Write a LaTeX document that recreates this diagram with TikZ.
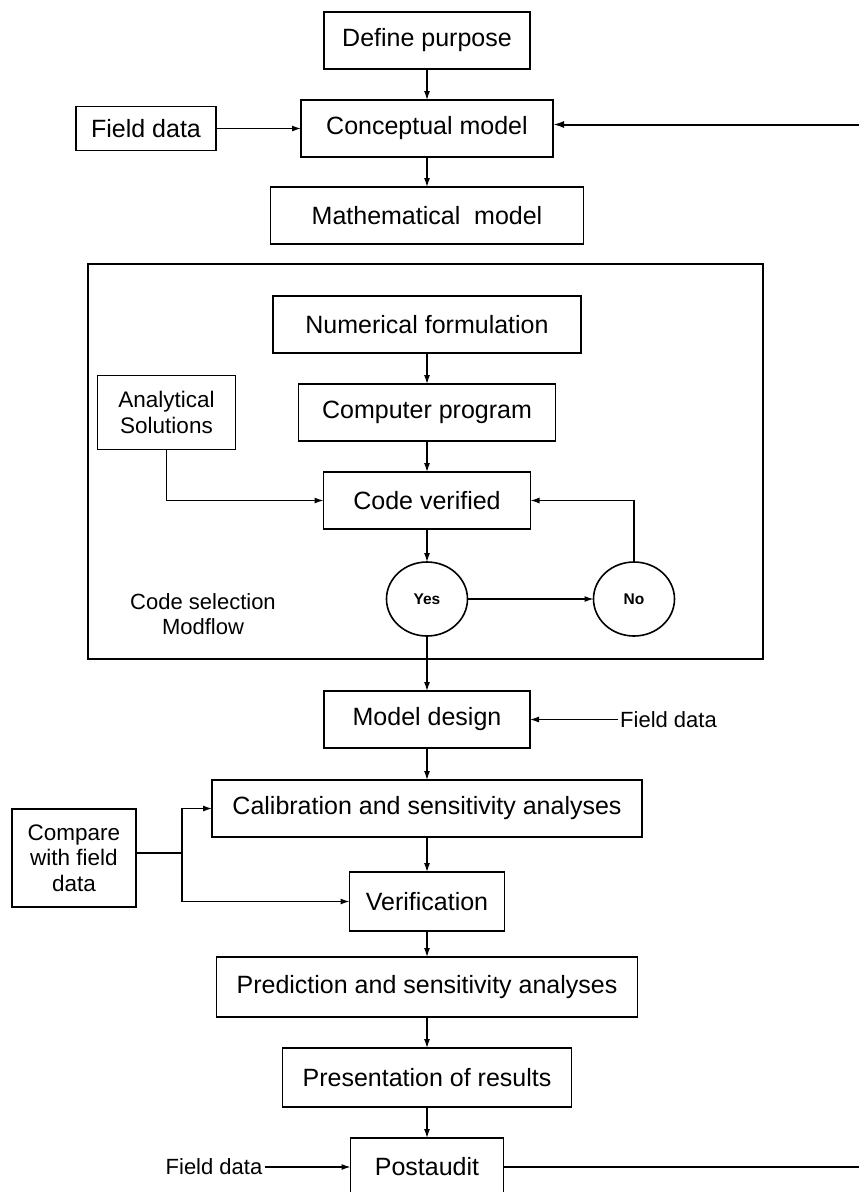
\documentclass[tikz,border=0pt]{standalone}
\usepackage{fontspec}
\setmainfont{Liberation Sans}
\usetikzlibrary{arrows.meta,positioning,fit,shapes.geometric}

\begin{document}
\begin{tikzpicture}[x=1pt,y=1pt,
  stage/.style={draw=black,line width=1.6pt,inner sep=0pt,outer sep=0pt,minimum height=57pt,
    font=\fontsize{25}{29}\selectfont,align=center},
  side/.style={draw=black,line width=1.6pt,inner sep=0pt,outer sep=0pt,align=center,
    font=\fontsize{22.5}{25.5}\selectfont},
  lbl/.style={font=\fontsize{22}{25}\selectfont,inner sep=2pt,align=center},
  dec/.style={ellipse,draw=black,line width=1.6pt,minimum width=81pt,minimum height=74pt,
    inner sep=0pt,outer sep=0pt,font=\bfseries\fontsize{15.5}{18}\selectfont},
  frame/.style={draw=black,line width=2.4pt,inner sep=0pt},
  arr/.style={-{Latex[length=9pt,width=6pt]},line width=1.2pt},
  ret/.style={-{Latex[length=11pt,width=7pt]},line width=2pt}]
  \useasboundingbox (0,0) rectangle (859,-1192);
  % top of the chain
  \node[stage,minimum width=206pt] (purpose) at (427,-40.5) {Define purpose};
  \node[stage,minimum width=252pt,below=31pt of purpose] (concept) {Conceptual model};
  \node[stage,minimum width=313pt,below=30pt of concept] (math) {Mathematical\ \ model};
  \node[side,minimum width=140pt,minimum height=44pt,font=\fontsize{25}{29}\selectfont,
    left=85pt of concept] (field1) {Field data};
  % code selection block
  \node[frame,fit={(88,-264) (763,-659)}] (codebox) {};
  \node[stage,minimum width=308pt] (numer) at (427,-324.5) {Numerical formulation};
  \node[stage,minimum width=257pt,below=31pt of numer] (computer) {Computer program};
  \node[stage,minimum width=207pt,below=31pt of computer] (verified) {Code verified};
  \node[dec,below=33pt of verified] (yes) {Yes};
  \node[dec,right=126pt of yes] (no) {No};
  \node[side,minimum width=138pt,minimum height=74pt,left=63pt of computer] (analyt) {Analytical\\Solutions};
  \node[lbl] (select) at (203,-614) {Code selection\\Modflow};
  % model runs
  \node[stage,minimum width=206pt,below=55pt of yes] (design) {Model design};
  \node[stage,minimum width=430pt,below=32pt of design] (calib) {Calibration and sensitivity analyses};
  \node[stage,minimum width=155pt,minimum height=59pt,below=35pt of calib] (verif) {Verification};
  \node[stage,minimum width=421pt,minimum height=60pt,below=26pt of verif] (predict) {Prediction and sensitivity analyses};
  \node[stage,minimum width=289pt,minimum height=59pt,below=31pt of predict] (present) {Presentation of results};
  \node[stage,minimum width=153pt,minimum height=58pt,below=31pt of present] (postaudit) {Postaudit};
  \node[side,minimum width=124pt,minimum height=98pt] (compare) at (74,-858) {Compare\\with field\\data};
  \node[lbl,right=88pt of design] (field2) {Field data};
  \node[lbl,left=86pt of postaudit] (field3) {Field data};
  \coordinate (split) at (182,-853);
  \coordinate (back) at (885,-1168);

  \draw[arr] (purpose) -- (concept);
  \draw[arr] (concept) -- (math);
  \draw[arr] (field1) -- (concept);
  \draw[arr] (numer) -- (computer);
  \draw[arr] (computer) -- (verified);
  \draw[arr] (verified) -- (yes);
  \draw[arr] (yes) -- (no);
  \draw[arr] (no) |- (verified);
  \draw[arr] (analyt) |- (verified);
  \draw[arr] (yes) -- (design);
  \draw[arr] (field2) -- (design);
  \draw[arr] (design) -- (calib);
  \draw[arr] (calib) -- (verif);
  \draw[line width=1.2pt] (compare.east |- split) -- (split);
  \draw[arr] (split) |- (calib);
  \draw[arr] (split) |- (verif);
  \draw[arr] (verif) -- (predict);
  \draw[arr] (predict) -- (present);
  \draw[arr] (present) -- (postaudit);
  \draw[arr] (field3) -- (postaudit);
  \draw[ret] (postaudit.east) -- (postaudit.east -| back) |- ([yshift=4pt]concept.east);
\end{tikzpicture}
\end{document}
